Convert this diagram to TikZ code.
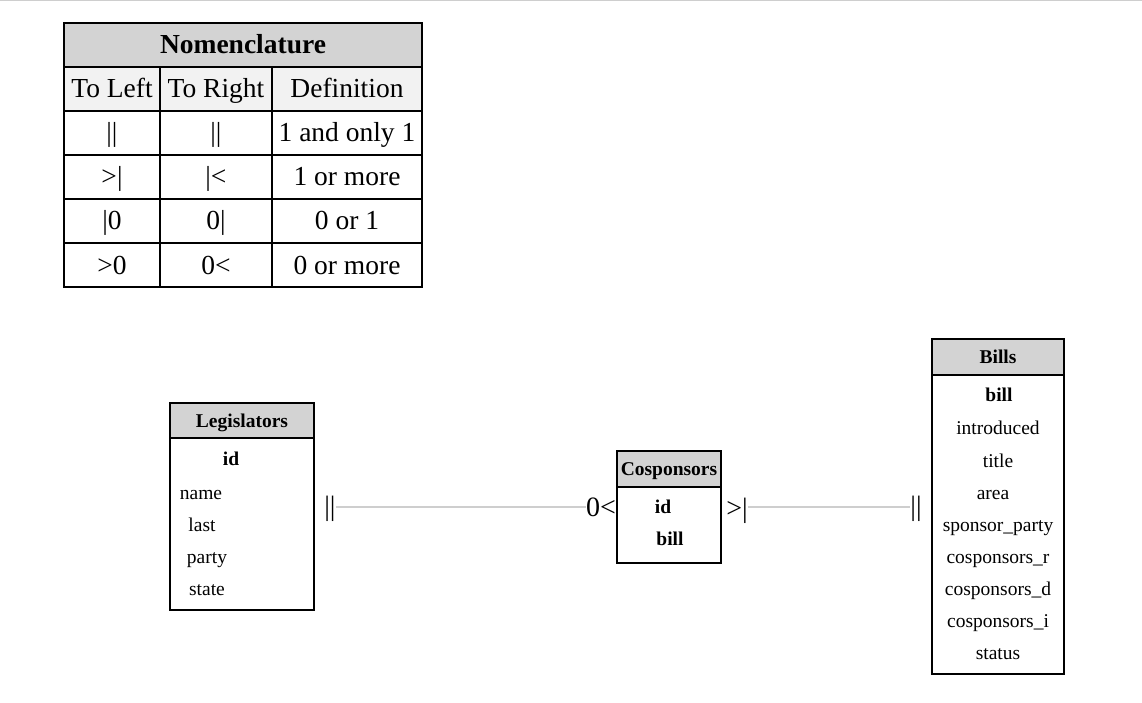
\documentclass[tikz,border=0pt]{standalone}
\usepackage{fontspec}
\setmainfont{Liberation Serif}
\usepackage{xcolor}
\usepackage{tikz}
\usetikzlibrary{positioning}
\definecolor{hdrgray}{RGB}{211,211,211}
\definecolor{rowgray}{RGB}{242,242,242}
\definecolor{linkgray}{RGB}{206,206,206}

\begin{document}
\begin{tikzpicture}[
    x=1pt, y=-1pt,
    cell/.style={draw, line width=2pt, outer sep=0pt, inner sep=0pt, minimum height=44pt, text height=18pt, text depth=0pt, font=\fontsize{27.5}{33}\selectfont},
    enthead/.style={draw, line width=2pt, outer sep=0pt, inner sep=0pt, fill=hdrgray, minimum height=36pt, text height=13pt, text depth=0pt, font=\fontsize{19.5}{23}\selectfont\bfseries},
    entbody/.style={draw, line width=2pt, outer sep=0pt, inner sep=0pt},
    attr/.style={inner sep=0pt, text height=13pt, text depth=0pt, font=\fontsize{19.5}{23}\selectfont},
    keyattr/.style={attr, font=\fontsize{19.5}{23}\selectfont\bfseries},
    card/.style={inner sep=0pt, font=\fontsize{28}{33}\selectfont},
    link/.style={draw=linkgray, line width=2pt},
]
    \useasboundingbox (0,0) rectangle (1142,703);
    \draw[linkgray, line width=1pt] (0,0.5) -- (1142,0.5);

    % Nomenclature table
    \node[cell, fill=hdrgray, minimum width=358pt, font=\fontsize{27.5}{33}\selectfont\bfseries] (nomen) at (243,45) {Nomenclature};
    \node[cell, fill=rowgray, minimum width=96pt] (toleft) at (112,89) {To Left};
    \node[cell, fill=rowgray, minimum width=112pt] (toright) at (216,89) {To Right};
    \node[cell, fill=rowgray, minimum width=150pt] (definition) at (347,89) {Definition};
    \foreach \tl/\tr/\df [count=\i] in {{||}/{||}/{1 and only 1}, {>|}/{|<}/{1 or more}, {|0}/{0|}/{0 or 1}, {>0}/{0<}/{0 or more}} {
        \node[cell, minimum width=96pt] (tl\i) at (112,{89+44*\i}) {\tl};
        \node[cell, minimum width=112pt] (tr\i) at (216,{89+44*\i}) {\tr};
        \node[cell, minimum width=150pt] (df\i) at (347,{89+44*\i}) {\df};
    }

    % Legislators
    \node[enthead, minimum width=144pt, minimum height=35pt] (leghead) at (242,420.5) {Legislators};
    \node[entbody, minimum width=144pt, minimum height=172pt, below=0pt of leghead] (legbody) {};
    \node[keyattr] (leg-id) at (231,459) {id};
    \node[attr] (leg-name) at (201,493) {name};
    \node[attr] (leg-last) at (202,525) {last};
    \node[attr] (leg-party) at (207,557) {party};
    \node[attr] (leg-state) at (207,589) {state};

    % Cosponsors
    \node[enthead, minimum width=104pt] (coshead) at (669,469) {Cosponsors};
    \node[entbody, minimum width=104pt, minimum height=76pt, below=0pt of coshead] (cosbody) {};
    \node[keyattr] (cos-id) at (663,507) {id};
    \node[keyattr] (cos-bill) at (670,539) {bill};

    % Bills
    \node[enthead, minimum width=132pt] (billhead) at (998,357) {Bills};
    \node[entbody, minimum width=132pt, minimum height=299pt, below=0pt of billhead] (billbody) {};
    \node[keyattr] (bill-bill) at (999,395) {bill};
    \node[attr] (bill-introduced) at (998,428) {introduced};
    \node[attr] (bill-title) at (998,461) {title};
    \node[attr] (bill-area) at (993,493) {area};
    \node[attr] (bill-sponsor) at (998,525) {sponsor\_party};
    \node[attr] (bill-cosr) at (998,557) {cosponsors\_r};
    \node[attr] (bill-cosd) at (998,589) {cosponsors\_d};
    \node[attr] (bill-cosi) at (998,621) {cosponsors\_i};
    \node[attr] (bill-status) at (998,653) {status};

    % Links
    \node[card] (legend) at (330,509) {||};
    \node[card] (cosleft) at (601,507) {0<};
    \draw[link] (legend.east |- cosleft.west) -- (cosleft.west);
    \node[card] (cosright) at (737,511) {>|};
    \node[card] (billend) at (916,509) {||};
    \draw[link] (cosright.east |- cosleft.west) -- (billend.west |- cosleft.west);
\end{tikzpicture}
\end{document}
